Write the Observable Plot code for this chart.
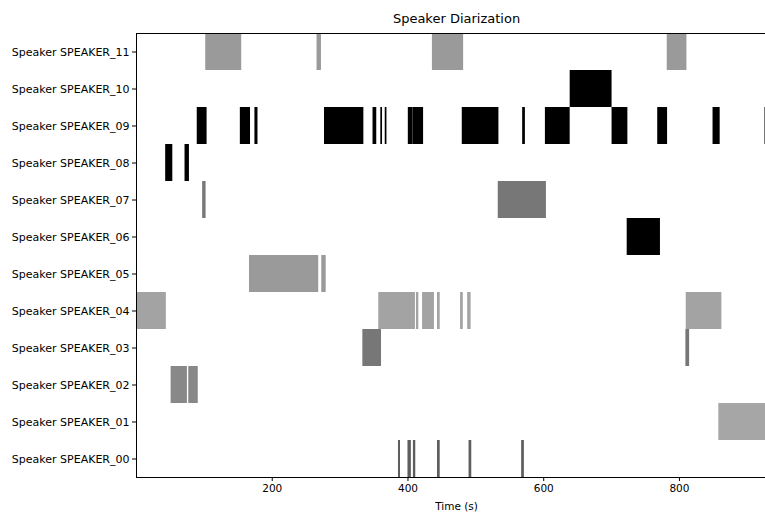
<!DOCTYPE html>
<html>
<head>
<meta charset="utf-8">
<script src="https://cdn.jsdelivr.net/npm/d3@7"></script>
<script src="https://cdn.jsdelivr.net/npm/@observablehq/plot@0.6"></script>
<style>
  html, body { margin: 0; padding: 0; background: white; }
  #chart svg { display: block; }
</style>
</head>
<body>
<div id="chart"></div>
<script>
const speakers = ["SPEAKER_00","SPEAKER_01","SPEAKER_02","SPEAKER_03","SPEAKER_04","SPEAKER_05",
                  "SPEAKER_06","SPEAKER_07","SPEAKER_08","SPEAKER_09","SPEAKER_10","SPEAKER_11"];
const speakerColors = ["#5e5e5e","#a6a6a6","#888888","#777777","#a3a3a3","#9a9a9a",
                       "#000000","#777777","#000000","#000000","#000000","#9a9a9a"];
const xTicks = [200, 400, 600, 800];

// [speaker, start (s), end (s)]
const segmentRows = [
  ["SPEAKER_11", 102, 155], ["SPEAKER_11", 266, 272.5], ["SPEAKER_11", 436, 482], ["SPEAKER_11", 782, 811],
  ["SPEAKER_10", 639, 700.7],
  ["SPEAKER_09", 89.5, 104], ["SPEAKER_09", 153, 168], ["SPEAKER_09", 174.5, 179], ["SPEAKER_09", 277, 335],
  ["SPEAKER_09", 348.5, 354], ["SPEAKER_09", 360, 362.5], ["SPEAKER_09", 366.5, 369], ["SPEAKER_09", 400.5, 407.5],
  ["SPEAKER_09", 407.5, 423], ["SPEAKER_09", 480, 534], ["SPEAKER_09", 569, 573], ["SPEAKER_09", 602.5, 639],
  ["SPEAKER_09", 700.7, 724], ["SPEAKER_09", 768, 782.5], ["SPEAKER_09", 849.5, 860], ["SPEAKER_09", 926, 928.5],
  ["SPEAKER_08", 43, 53.5], ["SPEAKER_08", 71.5, 78],
  ["SPEAKER_07", 97.5, 102.5], ["SPEAKER_07", 533, 604],
  ["SPEAKER_06", 723, 772],
  ["SPEAKER_05", 166.5, 268.5], ["SPEAKER_05", 273, 279.5],
  ["SPEAKER_04", 0, 44], ["SPEAKER_04", 357, 411], ["SPEAKER_04", 412.5, 416], ["SPEAKER_04", 421.5, 439],
  ["SPEAKER_04", 443.5, 447.5], ["SPEAKER_04", 477.5, 481.5], ["SPEAKER_04", 488, 493], ["SPEAKER_04", 810, 862.5],
  ["SPEAKER_03", 333.5, 361], ["SPEAKER_03", 809.5, 815],
  ["SPEAKER_02", 51, 75], ["SPEAKER_02", 77, 91],
  ["SPEAKER_01", 858, 943],
  ["SPEAKER_00", 386, 389], ["SPEAKER_00", 400, 405], ["SPEAKER_00", 408, 411.5],
  ["SPEAKER_00", 443.5, 447.5], ["SPEAKER_00", 490, 494], ["SPEAKER_00", 567.5, 571.5]
];

const segments = segmentRows.map(([speaker, start, end]) => ({speaker, start, end}));

const chart = Plot.plot({
  width: 765,
  height: 512,
  marginLeft: 136,
  marginRight: -11,
  marginTop: 33,
  marginBottom: 35,
  style: {fontFamily: "DejaVu Sans", fontSize: "10px", background: "white", overflow: "hidden", color: "black"},
  x: {domain: [0, 943], label: null},
  y: {domain: speakers.slice().reverse(), padding: 0, label: null},
  color: {domain: speakers, range: speakerColors},
  marks: [
    Plot.barX(segments, {x1: "start", x2: "end", y: "speaker", fill: "speaker"}),
    Plot.frame({stroke: "black", strokeWidth: 1}),
    Plot.axisX({ticks: xTicks, tickSize: 4, tickPadding: 3, label: null, fontSize: 10.5}),
    Plot.axisY({tickSize: 4, tickPadding: 3, tickFormat: d => "Speaker " + d, label: null, fontSize: 11}),
    Plot.text(["Speaker Diarization"], {frameAnchor: "top", lineAnchor: "middle", dy: -15, fontSize: 13, fill: "black"}),
    Plot.text(["Time (s)"], {frameAnchor: "bottom", lineAnchor: "middle", dy: 29, fontSize: 10.5, fill: "black"})
  ]
});
document.getElementById("chart").appendChild(chart);
</script>
</body>
</html>
